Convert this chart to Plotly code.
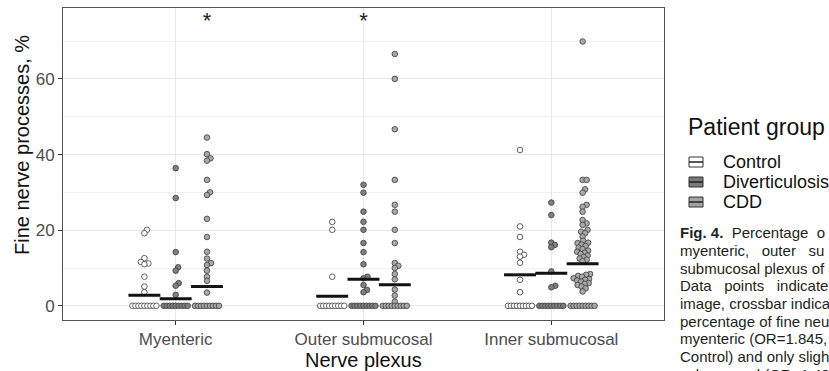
import numpy as np
import plotly.graph_objects as go

# ---------------- data ----------------
plexus = ["Myenteric", "Outer submucosal", "Inner submucosal"]
groups = ["Control", "Diverticulosis", "CDD"]

# non-zero observations, % fine nerve processes
myenteric_control = [20.1, 19.2, 12.6, 11.6, 11.2, 11.0, 7.7, 5.1, 3.6]
myenteric_divert = [36.4, 28.5, 14.2, 10.2, 9.3, 6.0, 5.3, 2.9]
myenteric_cdd = [44.5, 40.1, 39.0, 38.4, 33.3, 30.0, 29.3, 23.0, 18.2, 14.3,
                 12.5, 11.3, 10.8, 9.3, 7.7, 6.6, 3.5]
outer_control = [22.2, 20.1, 7.7]
outer_divert = [32.0, 29.9, 24.9, 22.2, 20.1, 16.6, 14.2, 11.0, 7.7, 7.3,
                5.5, 4.2, 3.6]
outer_cdd = [66.6, 60.0, 46.7, 33.3, 26.7, 24.9, 20.1, 16.6, 11.3, 10.6,
             10.0, 8.4, 7.0, 4.3, 2.7, 1.1]
inner_control = [41.2, 21.0, 18.2, 14.3, 13.5, 13.0, 11.4, 6.9, 3.6]
inner_divert = [27.3, 24.0, 16.7, 16.1, 15.5, 9.1, 5.3, 4.9]
inner_cdd = [69.9, 33.3, 33.3, 30.8, 29.9, 26.7, 26.2, 24.9, 22.7, 21.8,
             21.4, 20.1, 19.6, 19.2, 18.3, 17.2, 16.7, 16.6, 16.2, 15.8,
             15.4, 15.0, 14.6, 14.3, 14.0, 13.7, 13.3, 12.9, 12.5, 12.2,
             11.8, 8.4, 8.2, 7.9, 7.7, 7.3, 7.1, 6.9, 6.7, 6.4, 6.0, 5.8,
             5.5, 5.1, 4.6, 3.8]

# number of zero-valued observations per group (row at 0)
zero_counts = {
    "Myenteric": [9, 9, 9],
    "Outer submucosal": [9, 9, 9],
    "Inner submucosal": [9, 9, 9],
}

# crossbar (mean) per plexus x group
means = {
    "Myenteric": [2.8, 1.9, 5.1],
    "Outer submucosal": [2.5, 7.0, 5.6],
    "Inner submucosal": [8.2, 8.6, 11.1],
}

# significance stars
star_cells = [("Myenteric", "CDD"), ("Outer submucosal", "Diverticulosis")]
star_value = 75

values = {
    "Myenteric": [myenteric_control, myenteric_divert, myenteric_cdd],
    "Outer submucosal": [outer_control, outer_divert, outer_cdd],
    "Inner submucosal": [inner_control, inner_divert, inner_cdd],
}

NB = "\u00a0"
caption_lines = [
    "<b>Fig. 4.</b> " + NB + "Percentage " + NB + "o",
    "myenteric," + NB * 2 + " outer" + NB * 2 + " su",
    "submucosal plexus of c",
    "Data" + NB * 2 + " points" + NB * 2 + " indicate",
    "image, crossbar indica",
    "percentage of fine neu",
    "myenteric (OR=1.845,",
    "Control) and only sligh",
    "submucosal (OR=1.40",
]

# ---------------- styling / geometry ----------------
W, H = 829, 371
ML, MR, MT, MB = 63, 165, 8, 51
PW, PH = W - ML - MR, H - MT - MB
XR = [0.4, 3.6]
YR = [-3.75, 78.75]
kx = PW / (XR[1] - XR[0])
ky = PH / (YR[1] - YR[0])
dodge = 0.5 / 3
fills = {"Control": "#ffffff", "Diverticulosis": "#808080", "CDD": "#a8a8a8"}
key_fills = {"Control": "#ffffff", "Diverticulosis": "#7a7a7a", "CDD": "#a3a3a3"}
FONT = "Liberation Sans, Arial, Helvetica, sans-serif"


def px2x(X):
    return (X - ML) / PW


def px2y(Y):
    return (H - MB - Y) / PH


def swarm_offsets(vals, d_px=4.0, step=0.5):
    vals = np.asarray(vals, dtype=float)
    order = np.argsort(vals)
    placed = []
    offs = np.zeros(len(vals))
    for i in order:
        y = vals[i] * ky
        k = 0
        while True:
            found = None
            cands = [0.0] if k == 0 else [k * step, -k * step]
            for x in cands:
                if all((x - a) ** 2 + (y - b) ** 2 >= d_px ** 2 for a, b in placed):
                    found = x
                    break
            if found is not None:
                break
            k += 1
        placed.append((found, y))
        offs[i] = found
    return offs / kx


fig = go.Figure()

for gi, g in enumerate(groups):
    xs, ys = [], []
    for pi, p in enumerate(plexus):
        center = pi + 1 + (gi - 1) * dodge
        nz = values[p][gi]
        offs = swarm_offsets(nz)
        xs += list(center + offs)
        ys += list(nz)
        n0 = zero_counts[p][gi]
        zoff = np.linspace(-12, 12, n0) / kx
        xs += list(center + zoff)
        ys += [0.0] * n0
    fig.add_trace(go.Scatter(
        x=xs, y=ys, mode="markers", name=g, showlegend=False,
        marker=dict(size=5.6, color=fills[g],
                    line=dict(color="#3c3c3c", width=0.8)),
        hoverinfo="skip"))

# crossbars (means)
for gi, g in enumerate(groups):
    bx, by = [], []
    for pi, p in enumerate(plexus):
        center = pi + 1 + (gi - 1) * dodge
        m = means[p][gi]
        bx += [center - 0.085, center + 0.085, None]
        by += [m, m, None]
    fig.add_trace(go.Scatter(x=bx, y=by, mode="lines", showlegend=False,
                             line=dict(color="#111111", width=3),
                             hoverinfo="skip"))

# stars
sx = [plexus.index(p) + 1 + (groups.index(g) - 1) * dodge for p, g in star_cells]
fig.add_trace(go.Scatter(x=sx, y=[star_value] * len(sx), mode="text",
                         text=["*"] * len(sx), showlegend=False,
                         textfont=dict(size=22, color="#222222", family=FONT),
                         cliponaxis=False, hoverinfo="skip"))

annotations = []
shapes = []

# axis titles
annotations.append(dict(text="Nerve plexus", xref="paper", yref="paper",
                        x=0.5, y=px2y(360), xanchor="center", yanchor="middle",
                        showarrow=False, font=dict(size=20, color="#111", family=FONT)))
annotations.append(dict(text="Fine nerve processes, %", xref="paper", yref="paper",
                        x=px2x(22), y=px2y(145), xanchor="center", yanchor="middle",
                        textangle=-90, showarrow=False,
                        font=dict(size=20, color="#111", family=FONT)))

# legend (manual, ggplot-like crossbar keys)
annotations.append(dict(text="Patient group", xref="paper", yref="paper",
                        x=px2x(686), y=px2y(127), xanchor="left", yanchor="middle",
                        showarrow=False, font=dict(size=23, color="#111", family=FONT)))
for i, g in enumerate(groups):
    yc = 162 + 20 * i
    shapes.append(dict(type="rect", xref="paper", yref="paper",
                       x0=px2x(689), x1=px2x(703), y0=px2y(yc - 5), y1=px2y(yc + 5),
                       fillcolor=key_fills[g], line=dict(color="#333", width=1)))
    shapes.append(dict(type="line", xref="paper", yref="paper",
                       x0=px2x(689), x1=px2x(703), y0=px2y(yc), y1=px2y(yc),
                       line=dict(color="#222", width=1.5)))
    annotations.append(dict(text=g, xref="paper", yref="paper",
                            x=px2x(721), y=px2y(yc), xanchor="left", yanchor="middle",
                            showarrow=False, font=dict(size=18, color="#111", family=FONT)))

# caption text beside the chart
for i, line in enumerate(caption_lines):
    annotations.append(dict(text=line, xref="paper", yref="paper",
                            x=px2x(678), y=px2y(232.7 + 17.7 * i),
                            xanchor="left", yanchor="middle", showarrow=False,
                            font=dict(size=15, color="#231f20", family=FONT)))

axis_common = dict(showline=True, mirror=True, linecolor="#555", linewidth=1,
                   ticks="outside", ticklen=4, tickcolor="#333", tickwidth=1,
                   showgrid=True, gridcolor="#e8e8e8", gridwidth=1.1,
                   zeroline=False, tickfont=dict(size=17, color="#4d4d4d", family=FONT))

fig.update_layout(
    width=W, height=H,
    margin=dict(l=ML, r=MR, t=MT, b=MB, pad=0),
    paper_bgcolor="white", plot_bgcolor="white",
    font=dict(family=FONT),
    xaxis=dict(range=XR, tickmode="array", tickvals=[1, 2, 3], ticktext=plexus,
               **axis_common),
    yaxis=dict(range=YR, tickmode="array", tickvals=[0, 20, 40, 60],
               minor=dict(tickvals=[10, 30, 50, 70], showgrid=True,
                          gridcolor="#f1f1f1", gridwidth=0.6, ticks=""),
               **axis_common),
    annotations=annotations, shapes=shapes, showlegend=False,
)

fig.write_html("out.html")
